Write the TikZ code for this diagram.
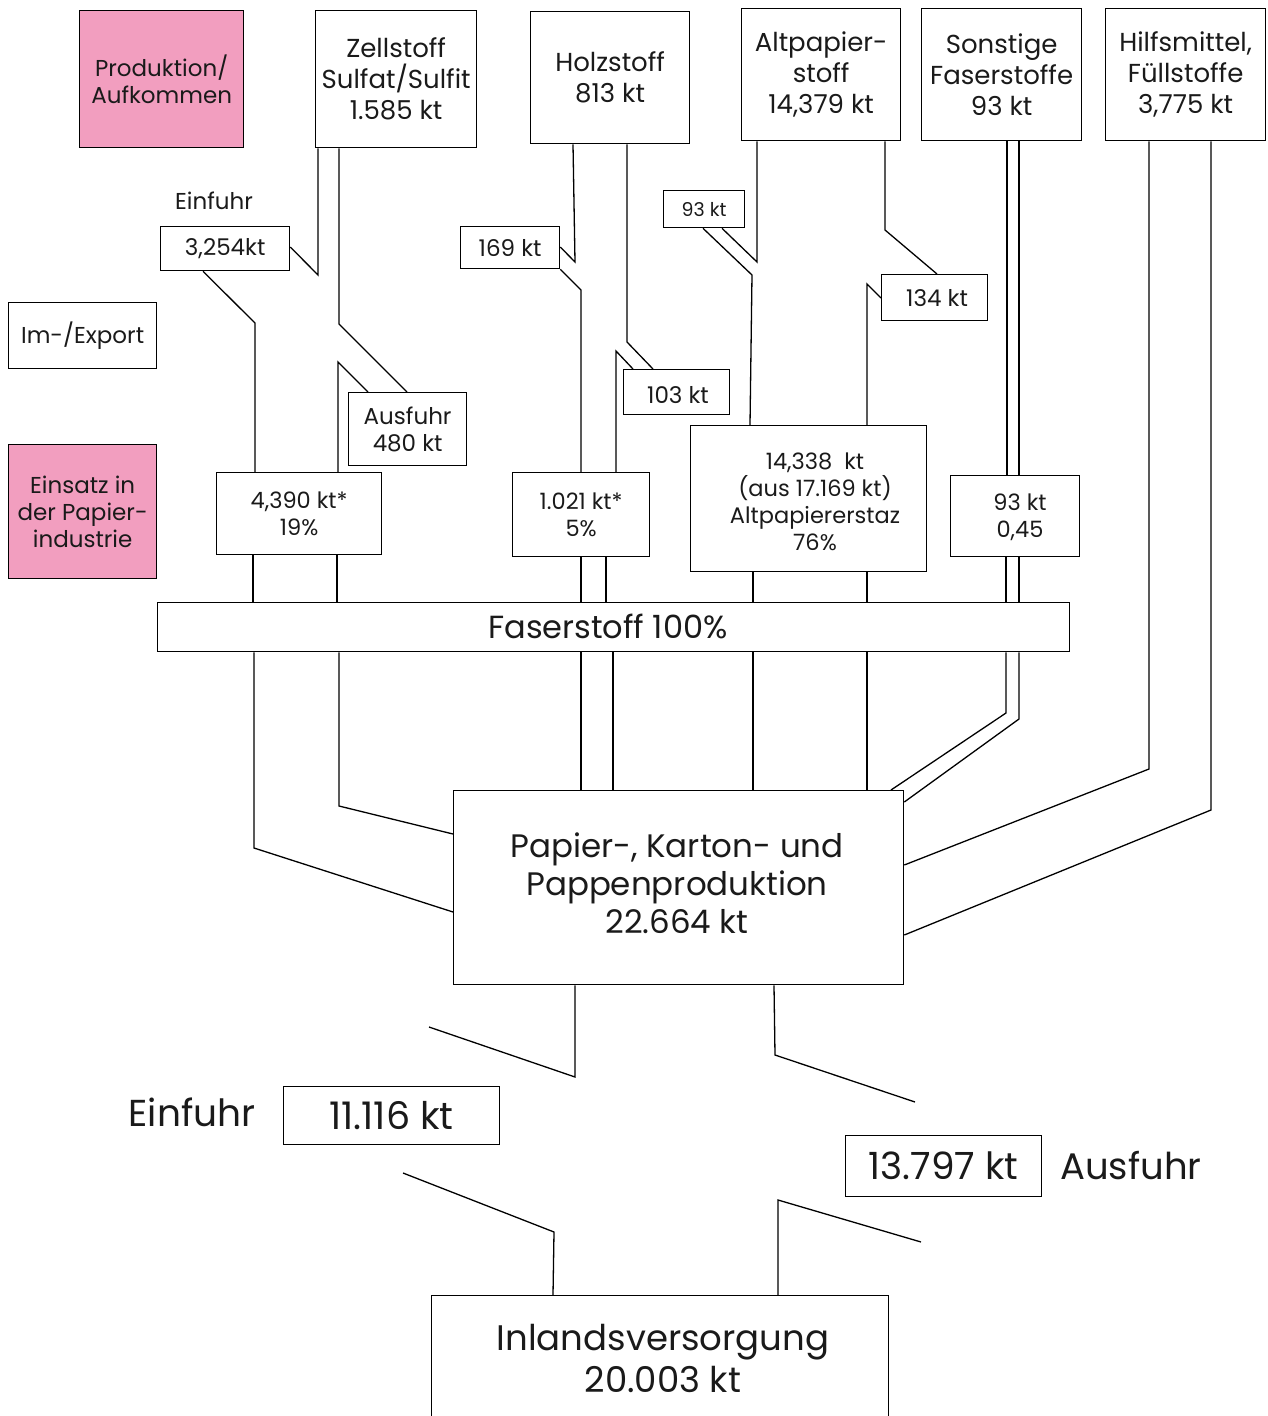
\documentclass[tikz,border=0pt]{standalone}
\usepackage{fontspec}
\setmainfont{Poppins}
\definecolor{pinkbox}{HTML}{F29EBF}
\definecolor{ink}{HTML}{1A1A1A}
\tikzset{
  box/.style={draw, line width=1.3pt, inner sep=0pt, align=center, anchor=north west, text=ink},
  lbl/.style={anchor=center, align=center, text=ink},
  flow/.style={line width=1.3pt, line join=miter},
  fs/.style 2 args={font=\fontsize{#1}{#2}\selectfont},
}
\begin{document}
\begin{tikzpicture}[x=1pt,y=-1pt]
\useasboundingbox (0,0) rectangle (1268,1416);
\clip (0,0) rectangle (1268,1416);
% legend
\node[box, fill=pinkbox, minimum width=164pt, minimum height=137pt, fs={23}{27}] (prod) at (79,10) {Produktion/\\Aufkommen};
\node[box, minimum width=148pt, minimum height=66pt, fs={23}{27}] (imex) at (8,302) {Im-/Export};
\node[box, fill=pinkbox, minimum width=148pt, minimum height=134pt, fs={23}{27}] (eins) at (8,444) {Einsatz in\\der Papier-\\industrie};
% top row
\node[box, minimum width=161pt, minimum height=137pt, fs={26}{31}] (zell) at (315,10) {Zellstoff\\Sulfat/Sulfit\\1.585 kt};
\node[box, minimum width=159pt, minimum height=132pt, fs={26}{31}] (holz) at (530,11) {Holzstoff\\813 kt};
\node[box, minimum width=159pt, minimum height=132pt, fs={26}{31}] (alt) at (741,8) {Altpapier-\\stoff\\14,379 kt};
\node[box, minimum width=160pt, minimum height=132pt, fs={26}{31}] (son) at (921,8) {Sonstige\\Faserstoffe\\93 kt};
\node[box, minimum width=160pt, minimum height=132pt, fs={26}{31}] (hilf) at (1105,8) {Hilfsmittel,\\Füllstoffe\\3,775 kt};
% import/export boxes
\node[lbl, fs={23}{27}] (einl) at (214,201) {Einfuhr};
\node[box, minimum width=129pt, minimum height=44pt, fs={23}{27}] (imp1) at (160,226) {3,254kt};
\node[box, minimum width=118pt, minimum height=73pt, fs={23}{27}] (aus1) at (348,392) {Ausfuhr\\480 kt};
\node[box, minimum width=99pt, minimum height=42pt, fs={23}{27}] (imp2) at (460,226) {169 kt};
\node[box, minimum width=106pt, minimum height=45pt] (aus2) at (623,369) {};
\node[lbl, fs={23}{27}] (aus2t) at (678,395) {103 kt};
\node[box, minimum width=81pt, minimum height=37pt, fs={19}{22}] (imp3) at (663,190) {93 kt};
\node[box, minimum width=106pt, minimum height=46pt] (aus3) at (881,274) {};
\node[lbl, fs={23}{27}] (aus3t) at (937,298) {134 kt};
% usage boxes
\node[box, minimum width=165pt, minimum height=82pt, fs={22.5}{27}] (ein1) at (216,472) {4,390 kt*\\19\%};
\node[box, minimum width=137pt, minimum height=84pt, fs={22.5}{27}] (ein2) at (512,472) {1.021 kt*\\5\%};
\node[box, minimum width=236pt, minimum height=146pt] (ein3) at (690,425) {};
\node[lbl, fs={22.5}{27}] (ein3t) at (815,502) {14,338\ \ kt\\(aus 17.169 kt)\\Altpapiererstaz\\76\%};
\node[box, minimum width=129pt, minimum height=81pt] (ein4) at (950,475) {};
\node[lbl, fs={22.5}{27}] (ein4t) at (1020,517) {93 kt\\0,45};
% fibre bar
\node[box, minimum width=912pt, minimum height=49pt] (fas) at (157,602) {};
\node[lbl, fs={32}{36}] (fast) at (608,626) {Faserstoff 100\%};
% production
\node[box, minimum width=450pt, minimum height=194pt] (pap) at (453,790) {};
\node[lbl, fs={32.5}{38}] (papt) at (677,883) {Papier-, Karton- und\\Pappenproduktion\\22.664 kt};
% trade
\node[lbl, fs={37.5}{42}] (einb) at (192,1112) {Einfuhr};
\node[box, minimum width=216pt, minimum height=58pt, fs={38}{42}] (imp4) at (283,1086) {11.116 kt};
\node[box, minimum width=196pt, minimum height=61pt, fs={37.5}{42}] (aus4) at (845,1135) {13.797 kt};
\node[lbl, fs={37}{42}] (ausb) at (1131,1166) {Ausfuhr};
% domestic supply
\node[box, minimum width=457pt, minimum height=140pt] (inl) at (431,1295) {};
\node[lbl, fs={35.5}{42}] (inlt) at (663,1358) {Inlandsversorgung\\20.003 kt};
% --- Zellstoff flows
\draw[flow] (imp1.east |- 0,247) -- (318,275) -- (318,0 |- zell.south);
\draw[flow] (339,0 |- zell.south) -- (339,324) -- (407,0 |- aus1.north);
\draw[flow] (368,0 |- aus1.north) -- (338,362) -- (338,0 |- ein1.north);
\draw[flow] (203,0 |- imp1.south) -- (255,323) -- (255,0 |- ein1.north);
\draw[flow] (253,0 |- ein1.south) -- (253,0 |- fas.north);
\draw[flow] (337,0 |- ein1.south) -- (337,0 |- fas.north);
\draw[flow] (254,0 |- fas.south) -- (254,848) -- (pap.west |- 0,912);
\draw[flow] (339,0 |- fas.south) -- (339,806) -- (pap.west |- 0,834);
% --- Holzstoff flows
\draw[flow] (573,0 |- holz.south) -- (575,262) -- (imp2.east |- 0,247);
\draw[flow] (imp2.south east) -- (581,290) -- (581,0 |- ein2.north);
\draw[flow] (627,0 |- holz.south) -- (627,342) -- (653,0 |- aus2.north);
\draw[flow] (633,0 |- aus2.north) -- (616,351) -- (616,0 |- ein2.north);
\draw[flow] (581,0 |- ein2.south) -- (581,0 |- fas.north);
\draw[flow] (606,0 |- ein2.south) -- (606,0 |- fas.north);
\draw[flow] (581,0 |- fas.south) -- (581,0 |- pap.north);
\draw[flow] (613,0 |- fas.south) -- (613,0 |- pap.north);
% --- Altpapier flows
\draw[flow] (757,0 |- alt.south) -- (757,262) -- (722,0 |- imp3.south);
\draw[flow] (703,0 |- imp3.south) -- (752,275) -- (750,0 |- ein3.north);
\draw[flow] (885,0 |- alt.south) -- (885,230) -- (937,0 |- aus3.north);
\draw[flow] (aus3.west |- 0,298) -- (867,284) -- (867,0 |- ein3.north);
\draw[flow] (753,0 |- ein3.south) -- (753,0 |- fas.north);
\draw[flow] (867,0 |- ein3.south) -- (867,0 |- fas.north);
\draw[flow] (753,0 |- fas.south) -- (753,0 |- pap.north);
\draw[flow] (867,0 |- fas.south) -- (867,0 |- pap.north);
% --- Sonstige flows
\draw[flow] (1007,0 |- son.south) -- (1007,0 |- ein4.north);
\draw[flow] (1019,0 |- son.south) -- (1019,0 |- ein4.north);
\draw[flow] (1006,0 |- ein4.south) -- (1006,0 |- fas.north);
\draw[flow] (1019,0 |- ein4.south) -- (1019,0 |- fas.north);
\draw[flow] (1006,0 |- fas.south) -- (1006,713) -- (891,0 |- pap.north);
\draw[flow] (1019,0 |- fas.south) -- (1019,719) -- (pap.east |- 0,802);
% --- Hilfsmittel flows
\draw[flow] (1149,0 |- hilf.south) -- (1149,769) -- (pap.east |- 0,865);
\draw[flow] (1211,0 |- hilf.south) -- (1211,810) -- (pap.east |- 0,935);
% --- trade flows
\coordinate (b1) at (429,1027);
\coordinate (b2) at (915,1102);
\coordinate (b3) at (403,1173);
\coordinate (b4) at (921,1242);
\draw[flow] (575,0 |- pap.south) -- (575,1077) -- (b1);
\draw[flow] (774,0 |- pap.south) -- (775,1055) -- (b2);
\draw[flow] (b3) -- (554,1232) -- (553,0 |- inl.north);
\draw[flow] (778,0 |- inl.north) -- (778,1200) -- (b4);
\end{tikzpicture}
\end{document}
